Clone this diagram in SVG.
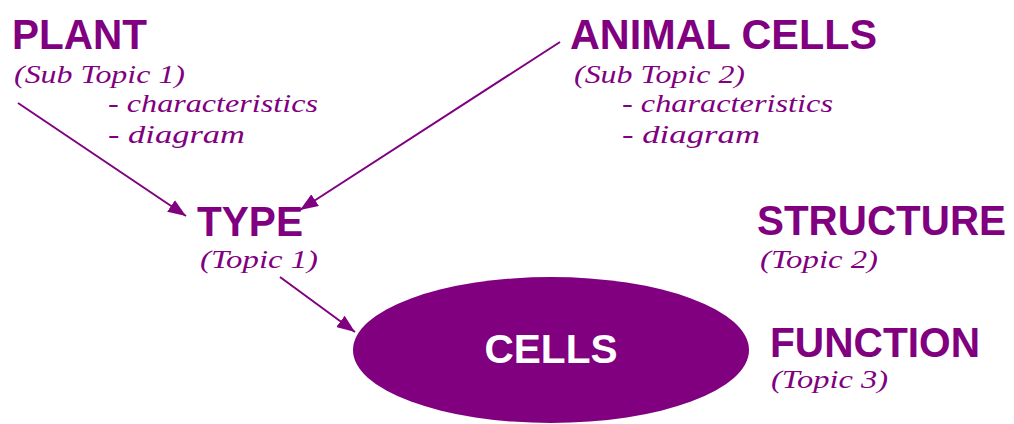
<svg xmlns="http://www.w3.org/2000/svg" width="1014" height="424" viewBox="0 0 1014 424">
<style>
.h{font-family:"Liberation Sans",Arial,sans-serif;font-weight:bold;fill:#800080;}
.s{font-family:"Liberation Serif","DejaVu Serif",serif;font-style:italic;fill:#800080;font-size:26px;}
.c{stroke:#800080;stroke-width:2;fill:none;}
</style>
<defs>
<marker id="ah" markerUnits="userSpaceOnUse" markerWidth="20" markerHeight="14" refX="18" refY="7" orient="auto">
<path d="M0,0 L18,7 L0,14 z" fill="#800080"/>
</marker>
</defs>
<rect width="1014" height="424" fill="#ffffff"/>
<g id="connectors">
<line class="c" x1="18" y1="103" x2="186" y2="216" marker-end="url(#ah)"/>
<line class="c" x1="560" y1="42" x2="300" y2="210" marker-end="url(#ah)"/>
<line class="c" x1="280" y1="277" x2="355" y2="332" marker-end="url(#ah)"/>
</g>
<g id="plant">
<text class="h" x="12" y="49" font-size="42" textLength="135" lengthAdjust="spacingAndGlyphs">PLANT</text>
<text class="s" x="14" y="83" textLength="171" lengthAdjust="spacingAndGlyphs">(Sub Topic 1)</text>
<text class="s" x="108" y="112" textLength="210" lengthAdjust="spacingAndGlyphs">- characteristics</text>
<text class="s" x="108" y="143" textLength="137" lengthAdjust="spacingAndGlyphs">- diagram</text>
</g>
<g id="animal">
<text class="h" x="570" y="49" font-size="42" textLength="307" lengthAdjust="spacingAndGlyphs">ANIMAL CELLS</text>
<text class="s" x="574" y="83" textLength="171" lengthAdjust="spacingAndGlyphs">(Sub Topic 2)</text>
<text class="s" x="622" y="112" textLength="211" lengthAdjust="spacingAndGlyphs">- characteristics</text>
<text class="s" x="622" y="143" textLength="138" lengthAdjust="spacingAndGlyphs">- diagram</text>
</g>
<g id="type">
<text class="h" x="197" y="236" font-size="42" textLength="106" lengthAdjust="spacingAndGlyphs">TYPE</text>
<text class="s" x="200" y="268" textLength="118" lengthAdjust="spacingAndGlyphs">(Topic 1)</text>
</g>
<g id="structure">
<text class="h" x="757" y="235" font-size="42" textLength="249" lengthAdjust="spacingAndGlyphs">STRUCTURE</text>
<text class="s" x="760" y="268" textLength="118" lengthAdjust="spacingAndGlyphs">(Topic 2)</text>
</g>
<g id="function">
<text class="h" x="770" y="357" font-size="42" textLength="210" lengthAdjust="spacingAndGlyphs">FUNCTION</text>
<text class="s" x="771" y="388" textLength="117" lengthAdjust="spacingAndGlyphs">(Topic 3)</text>
</g>
<g id="cells">
<ellipse cx="551" cy="350" rx="198" ry="73" fill="#800080"/>
<text class="h" x="551" y="363" font-size="40" text-anchor="middle" style="fill:#ffffff" textLength="133" lengthAdjust="spacingAndGlyphs">CELLS</text>
</g>
</svg>
